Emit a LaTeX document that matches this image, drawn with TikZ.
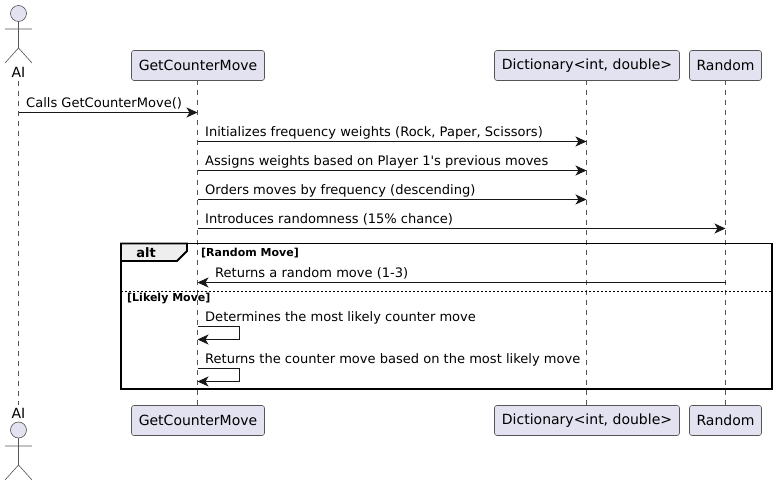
\documentclass[tikz,border=0pt]{standalone}
\usepackage{fontspec}
\setmainfont[Ligatures=TeXOff]{DejaVu Sans}
\usetikzlibrary{arrows.meta}
\definecolor{partfill}{HTML}{E2E2F0}
\definecolor{ink}{HTML}{181818}
\definecolor{soft}{HTML}{555555}
\definecolor{tabfill}{HTML}{EEEEEE}
\tikzset{
  part/.style={draw=soft,fill=partfill,line width=0.6pt,rounded corners=2.5pt,minimum height=30pt,inner sep=0pt,font=\fontsize{14}{16}\selectfont,text=black},
  lifeline/.style={draw=soft,line width=0.5pt,dash pattern=on 5pt off 5pt},
  msg/.style={draw=ink,line width=1pt,-{Stealth[length=11pt,width=10pt,inset=3pt]}},
  msgtext/.style={anchor=base west,inner sep=0pt,font=\fontsize{13.04}{15}\selectfont,text=black},
  guard/.style={anchor=base west,inner sep=0pt,font=\fontsize{11}{13}\selectfont\bfseries,text=black},
  actorline/.style={draw=soft,line width=0.6pt},
  frameline/.style={draw=black,line width=1.8pt},
}
\begin{document}
\begin{tikzpicture}[x=1pt,y=-1pt]
\useasboundingbox (0,0) rectangle (777,486);
% participants
\node[part,minimum width=133pt] (gt) at (198,65.5) {GetCounterMove};
\node[part,minimum width=185pt] (dt) at (587,65.5) {Dictionary<int, double>};
\node[part,minimum width=72pt] (rt) at (725.5,65.5) {Random};
\node[part,minimum width=133pt] (gb) at (198,420.5) {GetCounterMove};
\node[part,minimum width=185pt] (db) at (587,420.5) {Dictionary<int, double>};
\node[part,minimum width=72pt] (rb) at (725.5,420.5) {Random};
\node[anchor=base,inner sep=0pt,font=\fontsize{14}{16}\selectfont] (at) at (18.5,78) {AI};
\node[anchor=base,inner sep=0pt,font=\fontsize{14}{16}\selectfont] (ab) at (18.5,418) {AI};
\coordinate (al1) at (18.5,81);
\coordinate (al2) at (18.5,405);
\draw[lifeline] (al1) -- (al2);
\coordinate (g1) at (197.5,80.5);
\coordinate (g2) at (197.5,405.5);
\coordinate (d1) at (586.5,80.5);
\coordinate (d2) at (586.5,405.5);
\coordinate (r1) at (725.5,80.5);
\coordinate (r2) at (725.5,405.5);
\draw[lifeline] (g1) -- (g2);
\draw[lifeline] (d1) -- (d2);
\draw[lifeline] (r1) -- (r2);
% top actor
\draw[actorline,fill=partfill] (18.5,13.5) circle (8);
\draw[actorline] (18.5,21.5) -- (18.5,48) (5,29) -- (32,29) (5,63) -- (18.5,48) -- (32,63);
% bottom actor
\draw[actorline,fill=partfill] (18.5,430) circle (8);
\draw[actorline] (18.5,438) -- (18.5,465) (5,446) -- (32,446) (5,480) -- (18.5,465) -- (32,480);
% messages
\draw[msg] (al1 |- 0,112.5) -- (g1 |- 0,112.5);
\node[msgtext] (m1) at (26,108) {Calls GetCounterMove()};
\draw[msg] (g1 |- 0,141.5) -- (d1 |- 0,141.5);
\node[msgtext] (m2) at (205,137) {Initializes frequency weights (Rock, Paper, Scissors)};
\draw[msg] (g1 |- 0,170.5) -- (d1 |- 0,170.5);
\node[msgtext] (m3) at (205,166) {Assigns weights based on Player 1's previous moves};
\draw[msg] (g1 |- 0,199.5) -- (d1 |- 0,199.5);
\node[msgtext] (m4) at (205,195) {Orders moves by frequency (descending)};
\draw[msg] (g1 |- 0,228.5) -- (r1 |- 0,228.5);
\node[msgtext] (m5) at (205,224) {Introduces randomness (15\% chance)};
% alt frame
\draw[frameline,fill=tabfill] (121,243.5) -- (187,243.5) -- (187,251) -- (177,261) -- (121,261) -- cycle;
\draw[frameline] (121,243.5) rectangle (772,389);
\node[anchor=base,inner sep=0pt,font=\fontsize{13}{15}\selectfont\bfseries] (alt) at (146,258) {alt};
\node[guard] (g-a) at (201,257) {[Random Move]};
\draw[draw=black,line width=1pt,dash pattern=on 2pt off 2pt] (121,291.3) -- (772,291.3);
\node[guard] (g-b) at (127,302) {[Likely Move]};
\draw[msg] (r1 |- 0,282.5) -- (g1 |- 0,282.5);
\node[msgtext] (m6) at (215,278) {Returns a random move (1-3)};
\draw[msg] (g1 |- 0,326.5) -- (239.5,326.5) -- (239.5,339.5) -- (g1 |- 0,339.5);
\node[msgtext] (m7) at (205,322) {Determines the most likely counter move};
\draw[msg] (g1 |- 0,368.5) -- (239.5,368.5) -- (239.5,381.5) -- (g1 |- 0,381.5);
\node[msgtext] (m8) at (205,364) {Returns the counter move based on the most likely move};
\end{tikzpicture}
\end{document}
